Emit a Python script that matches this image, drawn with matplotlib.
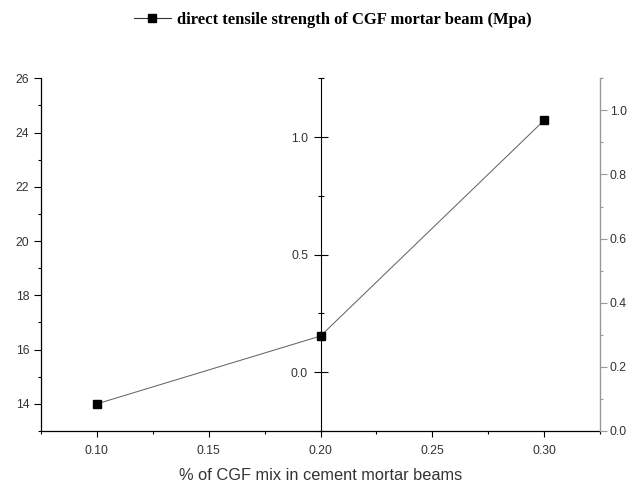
import matplotlib

matplotlib.use("Agg")
import matplotlib.pyplot as plt
from matplotlib.lines import Line2D
from matplotlib.ticker import FormatStrFormatter, MultipleLocator

# CGF content in the mortar beams and measured direct tensile strength
cgf_fraction = [0.10, 0.20, 0.30]
tensile_strength = [14.0, 16.5, 24.45]

series_label = "direct tensile strength of CGF mortar beam (Mpa)"
x_label = "% of CGF mix in cement mortar beams"

plt.rcParams["font.family"] = ["Liberation Sans", "DejaVu Sans"]

fig = plt.figure(figsize=(6.34, 4.83), dpi=100)
ax = fig.add_axes([0.0647, 0.1077, 0.8817, 0.7302])

tick_kw = dict(labelsize=8.7, labelcolor="#333333")

# main (left) axis carrying the data
ax.plot(cgf_fraction, tensile_strength, color="#666666", lw=0.75,
        marker="s", ms=6, mfc="black", mec="black", zorder=5)
ax.set_xlim(0.075, 0.325)
ax.set_ylim(13, 26)
ax.xaxis.set_major_locator(MultipleLocator(0.05))
ax.xaxis.set_minor_locator(MultipleLocator(0.025))
ax.xaxis.set_major_formatter(FormatStrFormatter("%.2f"))
ax.yaxis.set_major_locator(MultipleLocator(2))
ax.yaxis.set_minor_locator(MultipleLocator(1))
ax.tick_params(which="major", direction="out", length=5, width=0.8, **tick_kw)
ax.tick_params(which="minor", direction="out", length=2.5, width=0.8)
ax.tick_params(axis="x", which="major", length=4.5, pad=5.5)
ax.tick_params(axis="x", which="minor", length=2.5)
for side in ("top", "right"):
    ax.spines[side].set_visible(False)
for side in ("left", "bottom"):
    ax.spines[side].set_linewidth(0.9)
ax.set_xlabel(x_label, fontsize=11.8, color="#333333", labelpad=8)

# middle axis placed at x = 0.20
ax_mid = ax.twinx()
ax_mid.set_ylim(-0.25, 1.25)
ax_mid.yaxis.set_ticks_position("left")
ax_mid.yaxis.set_label_position("left")
ax_mid.spines["left"].set_position(("axes", 0.5))
ax_mid.spines["left"].set_linewidth(0.8)
for side in ("top", "right", "bottom"):
    ax_mid.spines[side].set_visible(False)
ax_mid.yaxis.set_major_locator(MultipleLocator(0.5))
ax_mid.yaxis.set_minor_locator(MultipleLocator(0.25))
ax_mid.yaxis.set_major_formatter(FormatStrFormatter("%.1f"))
ax_mid.tick_params(which="major", direction="inout", length=10, width=0.8, pad=4, **tick_kw)
ax_mid.tick_params(which="minor", direction="inout", length=5, width=0.8)

# right axis in grey
ax_r = ax.twinx()
ax_r.set_ylim(0, 1.1)
for side in ("top", "left", "bottom"):
    ax_r.spines[side].set_visible(False)
ax_r.spines["right"].set_color("#999999")
ax_r.spines["right"].set_linewidth(1.0)
ax_r.yaxis.set_major_locator(MultipleLocator(0.2))
ax_r.yaxis.set_minor_locator(MultipleLocator(0.1))
ax_r.yaxis.set_major_formatter(FormatStrFormatter("%.1f"))
ax_r.tick_params(which="major", direction="out", length=5, width=0.8, pad=2,
                 color="#999999", **tick_kw)
ax_r.tick_params(which="minor", direction="out", length=2.5, width=0.8, color="#999999")

handle = Line2D([], [], color="#333333", lw=0.8, marker="s", ms=6,
                mfc="black", mec="black")
fig.legend([handle], [series_label], loc="upper center",
           bbox_to_anchor=(0.525, 1.007), frameon=False, handlelength=2.2,
           handletextpad=0.4,
           prop={"family": ["Liberation Serif", "DejaVu Serif"],
                 "weight": "bold", "size": 12})

fig.savefig("out.png", dpi=100)
